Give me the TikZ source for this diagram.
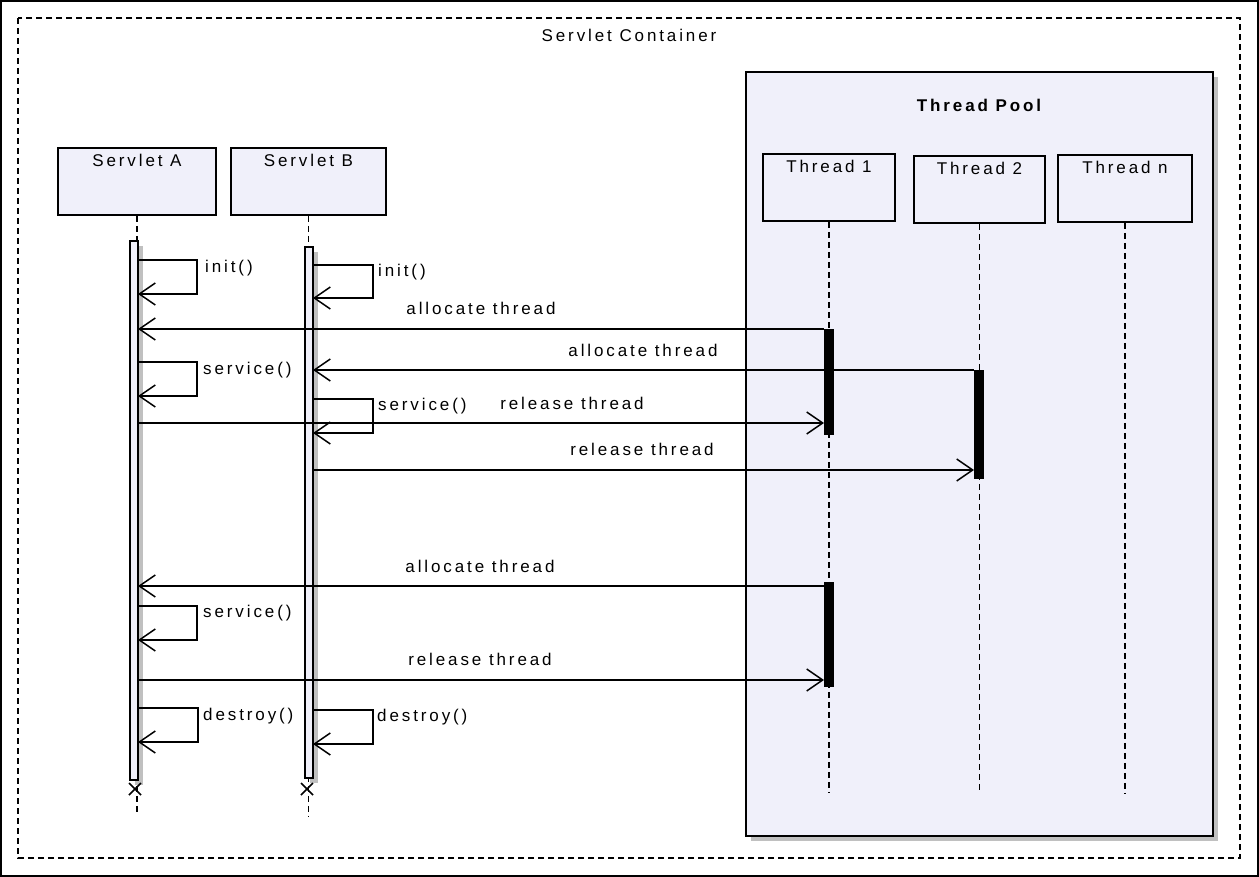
\documentclass[tikz,border=0pt]{standalone}
\usepackage{fontspec}
\setmainfont{Liberation Sans}[LetterSpace=17]
\usetikzlibrary{arrows.meta}
\definecolor{lav}{RGB}{240,240,250}
\definecolor{shad}{RGB}{192,192,192}
\begin{document}
\begin{tikzpicture}[x=1pt,y=-1pt,
  lbl/.style={font=\fontsize{17}{20}\selectfont, inner sep=0pt},
  dsh/.style={dash pattern=on 6pt off 4pt, line width=1.7pt},
  msg/.style={line width=1.5pt, -{Straight Barb[length=16pt,width=22pt,line width=1.5pt]}},
  obj/.style={draw, line width=1.9pt, fill=lav, anchor=north west, inner sep=0pt,
    text height=19pt, text depth=48pt, minimum height=67pt, align=center,
    font=\fontsize{17}{20}\selectfont},
  actbar/.style={draw, line width=1.5pt, fill=lav},
  blkbar/.style={fill=black},
]
\fill[white] (0,0) rectangle (1259,877);
\useasboundingbox (0,0) rectangle (1259,877);
\draw[line width=1.8pt] (1,1) rectangle (1258,876);
\draw[dsh] (18,18) rectangle (1240,858);
\node[lbl] (sc) at (629,35) {Servlet Container};

% thread pool
\fill[shad] (751,77) rectangle (1218,841);
\draw[line width=1.9pt, fill=lav] (746,72) rectangle (1213,836);
\node[lbl, font=\fontsize{17}{20}\selectfont\bfseries] (tp) at (979,105) {Thread Pool};

% objects
\node[obj, minimum width=158pt] (sa) at (57,147) {Servlet A};
\node[obj, minimum width=155pt] (sb) at (230,147) {Servlet B};
\node[obj, minimum width=132pt] (t1) at (762,153) {Thread 1};
\node[obj, minimum width=131pt] (t2) at (913,155) {Thread 2};
\node[obj, minimum width=134pt] (tn) at (1057,154) {Thread n};

% lifeline ends
\coordinate (saend) at (sa.south |- 0,812);
\coordinate (sbend) at (sb.south |- 0,817);
\coordinate (t1end) at (t1.south |- 0,793);
\coordinate (t2end) at (t2.south |- 0,793);
\coordinate (tnend) at (tn.south |- 0,793);
\draw[dsh] (sa.south) -- (saend);
\draw[dsh] (sb.south) -- (sbend);
\draw[dsh] (t1.south) -- (t1end);
\draw[dsh] (t2.south) -- (t2end);
\draw[dsh] (tn.south) -- (tnend);

% activation bars
\fill[shad] (135,246) rectangle (143,785);
\draw[actbar] (130,241) rectangle (138,780);
\fill[shad] (310,252) rectangle (318,783);
\draw[actbar] (305,247) rectangle (313,778);
\fill[blkbar] (824,329) rectangle (834,435);
\fill[blkbar] (974,370) rectangle (984,479);
\fill[blkbar] (824,582) rectangle (834,687);

% destruction marks
\draw[line width=1.5pt] (129,783) -- (141,795) (141,783) -- (129,795);
\draw[line width=1.5pt] (301,783) -- (313,795) (313,783) -- (301,795);

% self calls
\draw[msg] (138,260) -- (197,260) -- (197,294) -- (138,294);
\node[lbl, anchor=west] (ainit) at (205,268) {init()};
\draw[msg] (313,265) -- (373,265) -- (373,298) -- (313,298);
\node[lbl, anchor=west] (binit) at (378,272) {init()};
\draw[msg] (138,362) -- (197,362) -- (197,396) -- (138,396);
\node[lbl, anchor=west] (aserv1) at (203,370) {service()};
\draw[msg] (313,399) -- (373,399) -- (373,433) -- (313,433);
\node[lbl, anchor=west] (bserv) at (378,406) {service()};
\draw[msg] (138,606) -- (197,606) -- (197,640) -- (138,640);
\node[lbl, anchor=west] (aserv2) at (203,613) {service()};
\draw[msg] (138,708) -- (198,708) -- (198,742) -- (138,742);
\node[lbl, anchor=west] (adest) at (203,716) {destroy()};
\draw[msg] (313,710) -- (373,710) -- (373,744) -- (313,744);
\node[lbl, anchor=west] (bdest) at (377,717) {destroy()};

% messages
\draw[msg] (824,329) -- (138,329);
\node[lbl] (m1) at (481,308) {allocate thread};
\draw[msg] (974,370) -- (313,370);
\node[lbl] (m2) at (643,350) {allocate thread};
\draw[msg] (138,423) -- (824,423);
\node[lbl] (m3) at (572,403) {release thread};
\draw[msg] (313,470) -- (974,470);
\node[lbl] (m4) at (642,449) {release thread};
\draw[msg] (824,586) -- (138,586);
\node[lbl] (m5) at (480,566) {allocate thread};
\draw[msg] (138,680) -- (824,680);
\node[lbl] (m6) at (480,659) {release thread};
\end{tikzpicture}
\end{document}
